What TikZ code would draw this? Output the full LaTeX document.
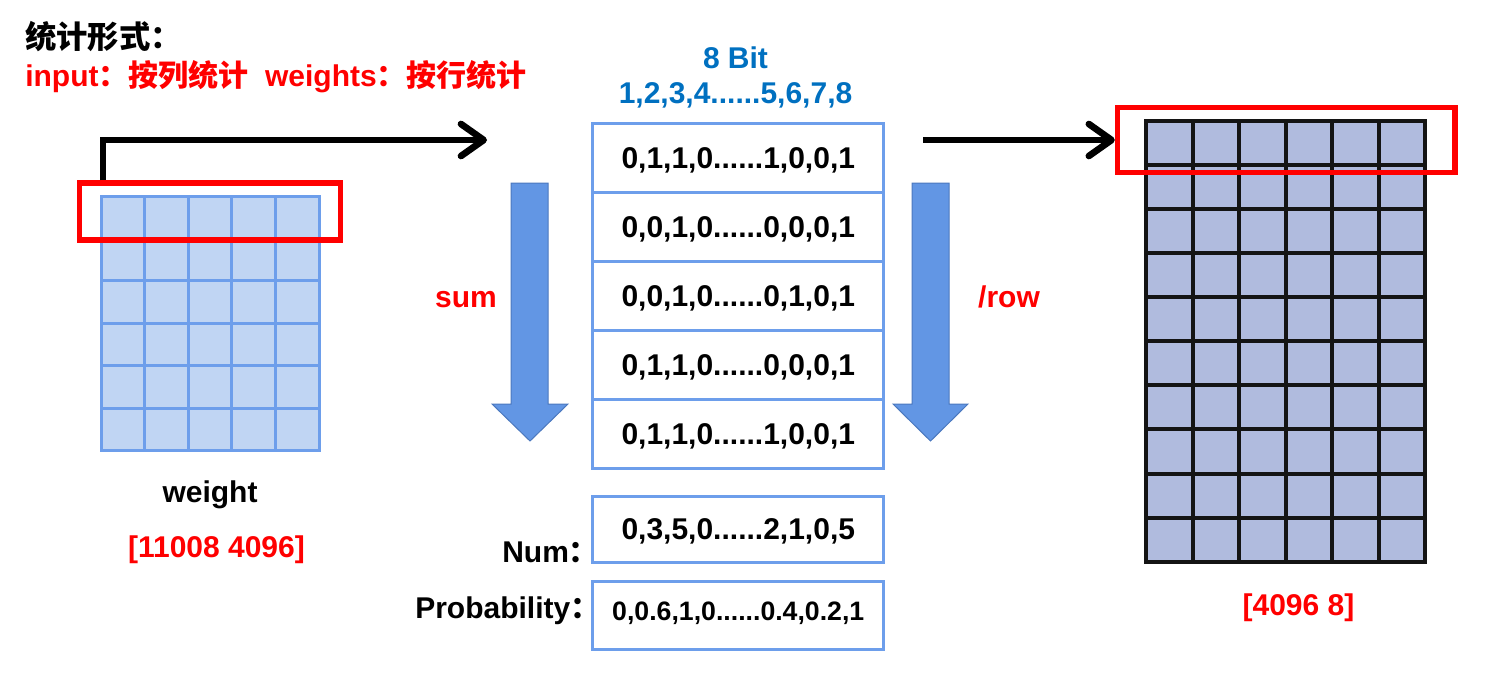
\documentclass[tikz,border=0pt]{standalone}
\usepackage{fontspec}
\setmainfont{Liberation Sans}
\newfontfamily\cjk{Noto Sans CJK SC}
\usetikzlibrary{arrows.meta}

\definecolor{boxblue}{RGB}{109,158,235}
\definecolor{cellblue}{RGB}{192,213,243}
\definecolor{cellgray}{RGB}{176,187,222}
\definecolor{bitblue}{RGB}{0,112,192}
\definecolor{sumblue}{RGB}{98,150,228}
\definecolor{sumedge}{RGB}{75,120,190}

\begin{document}
\begin{tikzpicture}[x=0.75pt,y=-0.75pt,
  lbl/.style={font=\bfseries\fontsize{22.5}{26}\selectfont, inner sep=0pt},
  bitrow/.style={draw=boxblue, line width=2.25pt, minimum width=218.6pt, minimum height=51.75pt,
    inner sep=0pt, text depth=0pt, font=\bfseries\fontsize{22.5}{26}\selectfont},
  redbox/.style={draw=red, line width=4pt, inner sep=0pt},
  bigarrow/.style={line width=5pt, -{Straight Barb[length=17pt,width=24pt,round]}},
  wcell/.style={fill=cellblue, draw=boxblue, line width=2.25pt},
  hcell/.style={fill=cellgray, draw=black!92, line width=3pt},
  sumarrow/.style={fill=sumblue, draw=sumedge, line width=0.75pt}]
\useasboundingbox (0,0) rectangle (1496,676);
%\draw[color=gray!20,step=50] (0,0) grid (1496,676);

% heading
\node[lbl, anchor=base west, font=\cjk\bfseries\fontsize{23.5}{26}\selectfont] (title) at (25,48) {统计形式：};
\node[lbl, anchor=base west, text=red] (mode) at (25,86)
  {input{\cjk ：按列统计}\hspace{0.55em}weights{\cjk ：按行统计}};

% weight matrix
\foreach \i in {0,...,4}
  \foreach \j in {0,...,5}
    \draw[wcell] ({101+43.6*\i},{196+42.4*\j}) rectangle +(43.6,42.4);
\node[redbox, minimum width=195.75pt, minimum height=42.75pt] (lred) at (210,211.5) {};
\node[lbl, anchor=base] (wname) at (210,502) {weight};
\node[lbl, anchor=base, text=red] (wsize) at (216.5,557) {[11008 4096]};

\coordinate (a1) at (103,140);
\coordinate (a2) at (487,140);
\draw[bigarrow] (lred.north -| a1) -- (a1) -- (a2);

% bit rows
\node[lbl, anchor=base, text=bitblue] (bits) at (735.5,68) {8 Bit};
\node[lbl, anchor=base, text=bitblue] (idx) at (735.5,103) {1,2,3,4......5,6,7,8};
\node[bitrow] (r1) at (738.25,158) {0,1,1,0......1,0,0,1};
\node[bitrow] (r2) at (738.25,227) {0,0,1,0......0,0,0,1};
\node[bitrow] (r3) at (738.25,296) {0,0,1,0......0,1,0,1};
\node[bitrow] (r4) at (738.25,365) {0,1,1,0......0,0,0,1};
\node[bitrow] (r5) at (738.25,434) {0,1,1,0......1,0,0,1};

\node[bitrow, minimum height=49.5pt] (num) at (738.25,529) {0,3,5,0......2,1,0,5};
\node[bitrow, minimum height=51pt, text depth=6pt, font=\bfseries\fontsize{20}{24}\selectfont] (prob) at (738.25,615.5)
  {0,0.6,1,0......0.4,0.2,1};
\node[lbl, anchor=base west] (numl) at (502,562) {Num{\cjk ：}};
\node[lbl, anchor=base west] (probl) at (415,618) {Probability{\cjk ：}};

% sum and /row
\draw[sumarrow] (511,183) -- (548,183) -- (548,404) -- (568,404) -- (530,441)
  -- (492,404) -- (511,404) -- cycle;
\node[lbl, anchor=base, text=red] (sum) at (466,307) {sum};
\draw[sumarrow] (912,183) -- (949,183) -- (949,404) -- (968,404) -- (930.5,441)
  -- (893,404) -- (912,404) -- cycle;
\node[lbl, anchor=base, text=red] (per) at (1009,307) {/row};

% result matrix
\foreach \i in {0,...,5}
  \foreach \j in {0,...,9}
    \draw[hcell] ({1146+46.5*\i},{120.7+44.1*\j}) rectangle +(46.5,44.1);
\node[redbox, minimum width=253.1pt, minimum height=48.75pt] (rred) at (1286.25,140) {};
\node[lbl, anchor=base, text=red] (rsize) at (1298.5,615) {[4096 8]};

\coordinate (b1) at (923,140);
\draw[bigarrow] (b1) -- (rred.west);
\end{tikzpicture}
\end{document}
